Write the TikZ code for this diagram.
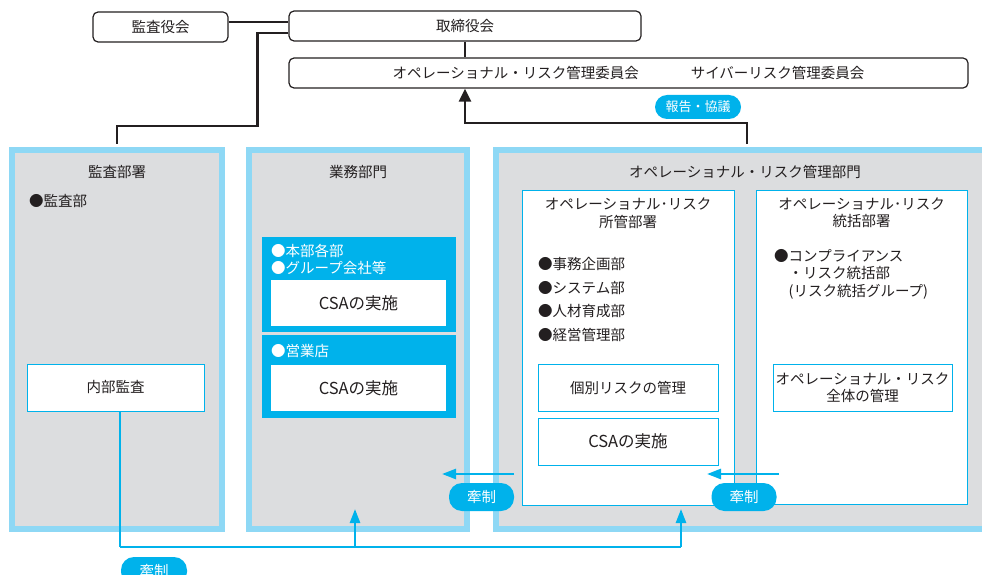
\documentclass[tikz,border=0pt]{standalone}
\usepackage{fontspec}
\setmainfont{Noto Sans CJK JP}
\usetikzlibrary{arrows.meta}
\definecolor{sky}{HTML}{00B2EB}
\definecolor{pale}{HTML}{8ED8F5}
\definecolor{mist}{HTML}{DCDDDF}
\definecolor{ink}{HTML}{231F20}
\newcommand{\bodyfs}{\fontsize{14.5}{17.5}\selectfont}
\newcommand{\csafs}{\fontsize{16.5}{19}\selectfont}
\newcommand{\pillfs}{\fontsize{13}{15}\selectfont}
\tikzset{>=latex,
  board/.style={draw=ink,line width=1.2pt,rounded corners=5pt,fill=white,minimum height=30pt,inner sep=0pt,font=\bodyfs,text=ink},
  panel/.style={draw=pale,line width=6pt,fill=mist,inner sep=0pt},
  unit/.style={draw=sky,line width=1pt,fill=white,inner sep=0pt,font=\bodyfs,text=ink,align=center},
  bluebox/.style={fill=sky,inner sep=0pt},
  csa/.style={fill=white,inner sep=0pt,minimum width=175pt,minimum height=46pt,font=\csafs,text=ink},
  txt/.style={inner sep=0pt,font=\bodyfs,text=ink},
  pill/.style={fill=sky,text=white,inner sep=0pt,font=\pillfs},
  tie/.style={draw=ink,line width=2.5pt},
  feed/.style={draw=sky,line width=2.5pt},
  feedtip/.style={-{Triangle[width=10pt,length=14pt]}},
}

\begin{document}
\begin{tikzpicture}[x=1pt,y=-1pt]
\useasboundingbox (0,0) rectangle (982,575);

% boards
\node[board,minimum width=135pt] (auditboard) at (160.5,27) {監査役会};
\node[board,minimum width=352pt] (directors) at (465,26) {取締役会};
\node[board,minimum width=679pt] (committee) at (628.5,73) {オペレーショナル・リスク管理委員会\hspace{52pt}サイバーリスク管理委員会};

% panels
\node[panel,minimum width=210pt,minimum height=379pt] (auditdept) at (117,339.5) {};
\node[panel,minimum width=218pt,minimum height=379pt] (business) at (358,339.5) {};
\node[panel,minimum width=491pt,minimum height=379pt] (opsdept) at (741.5,339.5) {};

% audit
\node[txt] (audittitle) at (117,172) {監査部署};
\node[txt,anchor=west] (auditsub) at (29,201) {●監査部};
\node[unit,minimum width=177pt,minimum height=47pt] (internal) at (115.5,387.5) {内部監査};

% business
\node[txt] (bustitle) at (358,172) {業務部門};
\node[bluebox,minimum width=194pt,minimum height=95pt] (hq) at (359,284.5) {};
\node[txt,text=white,anchor=west,align=left] (hqlist) at (271,259.5) {●本部各部\\●グループ会社等};
\node[csa] (hqcsa) at (358.5,303) {CSAの実施};
\node[bluebox,minimum width=194pt,minimum height=83pt] (branch) at (359,376.5) {};
\node[txt,text=white,anchor=west] (branchlist) at (271,351) {●営業店};
\node[csa] (branchcsa) at (358.5,388) {CSAの実施};

% operational risk
\node[txt] (opstitle) at (745,172) {オペレーショナル・リスク管理部門};
\node[unit,minimum width=212pt,minimum height=315pt] (owner) at (628,347.5) {};
\node[txt,align=center] (ownertitle) at (628,213) {オペレーショナル･リスク\\所管部署};
\foreach \d [count=\i] in {事務企画部,システム部,人材育成部,経営管理部}
  \node[txt,anchor=west] (dept\i) at (538,240.3+23.7*\i) {●\d};
\node[unit,minimum width=180pt,minimum height=47pt] (eachrisk) at (628,387.5) {個別リスクの管理};
\node[unit,minimum width=180pt,minimum height=47pt,font=\csafs] (owncsa) at (628,441.5) {CSAの実施};
\node[unit,minimum width=211pt,minimum height=314pt] (control) at (861.5,347) {};
\node[txt,align=center] (controltitle) at (861.5,213) {オペレーショナル･リスク\\統括部署};
\node[txt,anchor=north west,align=left] (compliance) at (774,249) {●コンプライアンス\\\phantom{●}・リスク統括部\\\phantom{●}(リスク統括グループ)};
\node[unit,minimum width=179pt,minimum height=47pt] (wholerisk) at (862.5,387.5) {オペレーショナル・リスク\\全体の管理};

% black lines
\coordinate (b1) at ([yshift=4pt]directors.west);
\draw[tie] (auditboard.east |- b1) -- (b1);
\draw[tie] ([yshift=-7pt]directors.west) -- ++(-31,0) -- ++(0,93) -| ([yshift=3pt]auditdept.north);
\draw[tie] (directors.south) -- (directors.south |- committee.north);
\draw[tie,-{Triangle[width=12pt,length=13pt]}] ([xshift=5.5pt,yshift=3pt]opsdept.north) -- ++(0,-21) -| (committee.south -| directors.south);
\node[pill,rounded corners=12pt,minimum width=86pt,minimum height=24pt] (report) at (698,107) {報告・協議};

% checks
\coordinate (k1) at (514,474);
\coordinate (k1tip) at (442,474);
\coordinate (k2) at (779,474);
\coordinate (k2tip) at (707,474);
\draw[feed,feedtip] (k1) -- (k1tip);
\draw[feed,feedtip] (k2) -- (k2tip);
\node[pill,rounded corners=13pt,minimum width=65pt,minimum height=28pt,font=\bodyfs] (check1) at (481.5,497) {牽制};
\node[pill,rounded corners=13pt,minimum width=65pt,minimum height=28pt,font=\bodyfs] (check2) at (744,497) {牽制};

\coordinate (n1) at (120,547);
\coordinate (n2) at (355,547);
\coordinate (n3) at (681,547);
\coordinate (t2) at (355,509);
\coordinate (t3) at (681,509);
\draw[sky,line width=2pt] ([xshift=4.5pt]internal.south) -- (n1);
\draw[feed] (n1) -- (n3);
\draw[feed,feedtip] (n2) -- (t2);
\draw[feed,feedtip] (n3) -- (t3);
\node[pill,rounded corners=13pt,minimum width=66pt,minimum height=28pt,font=\bodyfs] (check3) at (154,571) {牽制};
\end{tikzpicture}
\end{document}
